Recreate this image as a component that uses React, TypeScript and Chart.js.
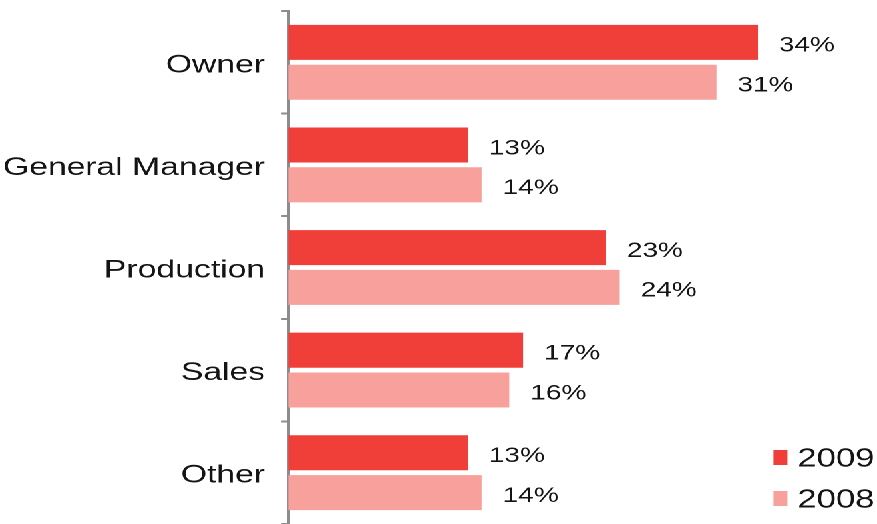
import { useEffect, useRef } from "react";
import { Chart, registerables } from "chart.js";

Chart.register(...registerables);

const categories = ["Owner", "General Manager", "Production", "Sales", "Other"];
const seriesNames = ["2009", "2008"];
const values2009 = [34, 13, 23, 17, 13];
const values2008 = [31, 14, 24, 16, 14];
const seriesColors = ["#F03E38", "#F8A09B"];

const W = 659;
const H = 524;
const STRETCH = 877 / W;
const FONT = "'Liberation Sans', Arial, Helvetica, sans-serif";
const TEXT = "#141414";
const AXIS = "#8c8c8c";

const valueLabels = {
  id: "valueLabels",
  afterDatasetsDraw(chart: any) {
    const ctx = chart.ctx;
    ctx.save();
    ctx.font = `21px ${FONT}`;
    ctx.fillStyle = TEXT;
    ctx.textAlign = "left";
    ctx.textBaseline = "middle";
    chart.data.datasets.forEach((ds: any, i: number) => {
      const meta = chart.getDatasetMeta(i);
      meta.data.forEach((bar: any, j: number) => {
        ctx.fillText(`${ds.data[j]}%`, bar.x + 15.8, bar.y + 3.5);
      });
    });
    ctx.restore();
  },
};

const cornerLegend = {
  id: "cornerLegend",
  afterDraw(chart: any) {
    const ctx = chart.ctx;
    const bottom = chart.height;
    const rows = [bottom - 66.5, bottom - 25.5];
    const boxX = chart.width - 77.8;
    const textX = chart.width - 59.7;
    ctx.save();
    ctx.font = `26px ${FONT}`;
    ctx.textAlign = "left";
    ctx.textBaseline = "middle";
    chart.data.datasets.forEach((ds: any, i: number) => {
      const cy = rows[i];
      ctx.fillStyle = ds.backgroundColor;
      ctx.fillRect(boxX, cy - 7.5, 10.5, 15);
      ctx.fillStyle = TEXT;
      ctx.fillText(ds.label, textX, cy + 2);
    });
    ctx.restore();
  },
};

export default function App() {
  const canvasRef = useRef<HTMLCanvasElement | null>(null);

  useEffect(() => {
    if (!canvasRef.current) return;
    const chart = new Chart(canvasRef.current, {
      type: "bar",
      data: {
        labels: categories,
        datasets: [
          {
            label: seriesNames[0],
            data: values2009,
            backgroundColor: seriesColors[0],
            categoryPercentage: 0.776,
            barPercentage: 0.88,
          },
          {
            label: seriesNames[1],
            data: values2008,
            backgroundColor: seriesColors[1],
            categoryPercentage: 0.776,
            barPercentage: 0.88,
          },
        ],
      },
      options: {
        indexAxis: "y",
        animation: false,
        responsive: false,
        devicePixelRatio: 2,
        layout: { padding: { top: 11, right: 27.2, bottom: 0, left: 0 } },
        scales: {
          x: { display: false, min: 0, max: 40 },
          y: {
            position: "left",
            z: 1,
            grid: {
              display: true,
              drawOnChartArea: false,
              drawTicks: true,
              tickLength: 5,
              color: AXIS,
              lineWidth: 2,
              offset: true,
            },
            border: { display: true, color: AXIS, width: 2.5 },
            ticks: {
              color: TEXT,
              font: { family: FONT, size: 25.3 },
              padding: 12.5,
              labelOffset: 3,
              autoSkip: false,
            },
            afterFit(scale: any) {
              scale.width = 216.6;
              scale.paddingTop = 0;
              scale.paddingBottom = 0;
            },
          },
        },
        plugins: {
          legend: { display: false },
          tooltip: { enabled: false },
        },
      },
      plugins: [valueLabels, cornerLegend],
    } as any);
    return () => chart.destroy();
  }, []);

  return (
    <div
      style={{
        position: "fixed",
        left: 0,
        top: 0,
        width: W,
        height: H,
        transform: `scaleX(${STRETCH})`,
        transformOrigin: "0 0",
        background: "#fff",
      }}
    >
      <canvas ref={canvasRef} width={W} height={H} style={{ width: W, height: H, display: "block" }} />
    </div>
  );
}
